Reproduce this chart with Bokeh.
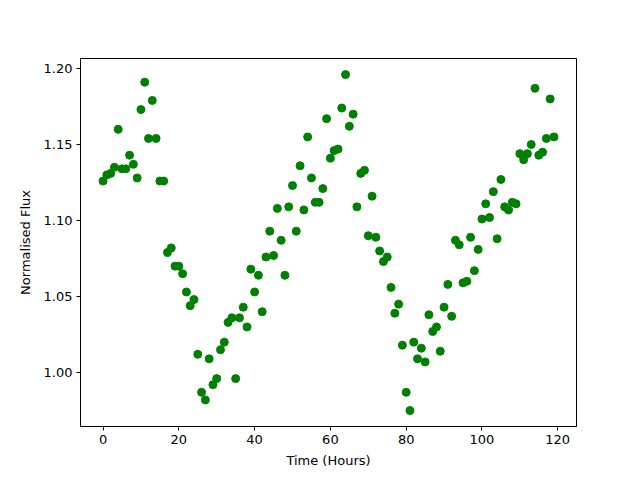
from bokeh.plotting import figure
from bokeh.models import Range1d, FixedTicker, PrintfTickFormatter, ColumnDataSource
from bokeh.embed import file_html
from bokeh.resources import INLINE

hours = list(range(120))
flux = [1.126, 1.130, 1.131, 1.135, 1.160, 1.134, 1.134, 1.143, 1.137, 1.128,
        1.173, 1.191, 1.154, 1.179, 1.154, 1.126, 1.126, 1.079, 1.082, 1.070,
        1.070, 1.065, 1.053, 1.044, 1.048, 1.012, 0.987, 0.982, 1.009, 0.992,
        0.996, 1.015, 1.020, 1.033, 1.036, 0.996, 1.036, 1.043, 1.030, 1.068,
        1.053, 1.064, 1.040, 1.076, 1.093, 1.077, 1.108, 1.087, 1.064, 1.109,
        1.123, 1.093, 1.136, 1.107, 1.155, 1.128, 1.112, 1.112, 1.121, 1.167,
        1.141, 1.146, 1.147, 1.174, 1.196, 1.162, 1.170, 1.109, 1.131, 1.133,
        1.090, 1.116, 1.089, 1.080, 1.073, 1.076, 1.056, 1.039, 1.045, 1.018,
        0.987, 0.975, 1.020, 1.009, 1.016, 1.007, 1.038, 1.027, 1.030, 1.014,
        1.043, 1.058, 1.037, 1.087, 1.084, 1.059, 1.060, 1.089, 1.067, 1.081,
        1.101, 1.111, 1.102, 1.119, 1.088, 1.127, 1.109, 1.107, 1.112, 1.111,
        1.144, 1.140, 1.144, 1.150, 1.187, 1.143, 1.145, 1.154, 1.180, 1.155]
x_ticks = [0, 20, 40, 60, 80, 100, 120]
y_ticks = [1.00, 1.05, 1.10, 1.15, 1.20]

src = ColumnDataSource(data=dict(x=hours, y=flux))

p = figure(width=640, height=480, output_backend="svg", toolbar_location=None,
           x_range=Range1d(-5.95, 124.95), y_range=Range1d(0.9645, 1.2066),
           min_border_left=80, min_border_right=64, min_border_top=58, min_border_bottom=54)
p.scatter("x", "y", source=src, size=8, fill_color="green", line_color="green")

p.xgrid.visible = False
p.ygrid.visible = False
p.outline_line_color = "black"
p.outline_line_width = 1
p.outline_line_alpha = 1

p.xaxis.ticker = FixedTicker(ticks=x_ticks)
p.yaxis.ticker = FixedTicker(ticks=y_ticks)
p.yaxis.formatter = PrintfTickFormatter(format="%.2f")
p.xaxis.axis_label = "Time (Hours)"
p.yaxis.axis_label = "Normalised Flux"
for ax in (p.xaxis, p.yaxis):
    ax.axis_label_text_font = "DejaVu Sans"
    ax.axis_label_text_font_style = "normal"
    ax.axis_label_text_font_size = "13px"
    ax.major_label_text_font = "DejaVu Sans"
    ax.major_label_text_font_size = "13px"
    ax.major_tick_out = 4
    ax.major_tick_in = 0
    ax.minor_tick_out = 0
    ax.minor_tick_in = 0
    ax.axis_line_color = "black"
    ax.major_tick_line_color = "black"
    ax.major_label_text_color = "black"
    ax.axis_label_text_color = "black"
p.xaxis.axis_label_standoff = 6
p.yaxis.axis_label_standoff = 8
p.yaxis.major_label_standoff = 4
p.xaxis.major_label_standoff = 4

open("out.html", "w").write(file_html(p, INLINE))
